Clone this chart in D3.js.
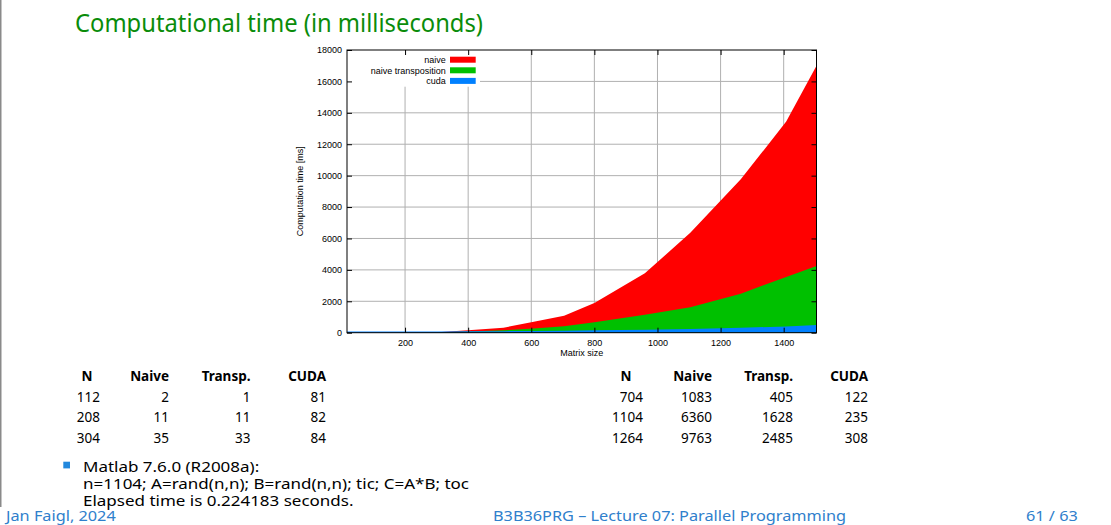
<!DOCTYPE html>
<html>
<head>
<meta charset="utf-8">
<script src="https://cdn.jsdelivr.net/npm/d3@7"></script>
<style>
  html, body { margin: 0; padding: 0; background: #fff; }
  svg { display: block; }
</style>
</head>
<body>
<div id="chart"></div>
<script>
// Data
var sizes = [16, 112, 208, 304, 400, 512, 608, 704, 800, 960, 1104, 1264, 1408, 1504];
var naive = [0, 2, 11, 35, 150, 320, 700, 1083, 1890, 3780, 6360, 9763, 13440, 17000];
var transp = [0, 1, 11, 33, 70, 150, 260, 405, 660, 1150, 1628, 2485, 3550, 4250];
var cuda = [80, 81, 82, 84, 90, 100, 110, 122, 150, 190, 235, 308, 400, 490];

var seriesNames = ["naive", "naive transposition", "cuda"];
var seriesColors = ["#ff0000", "#00c000", "#0080ff"];

var xTicks = [200, 400, 600, 800, 1000, 1200, 1400];
var yTicks = [0, 2000, 4000, 6000, 8000, 10000, 12000, 14000, 16000, 18000];

var tableHead = ["N", "Naive", "Transp.", "CUDA"];
var leftRows = [[112, 2, 1, 81], [208, 11, 11, 82], [304, 35, 33, 84]];
var rightRows = [[704, 1083, 405, 122], [1104, 6360, 1628, 235], [1264, 9763, 2485, 308]];

var bulletLines = [
    "Matlab 7.6.0 (R2008a):",
    "n=1104; A=rand(n,n); B=rand(n,n); tic; C=A*B; toc",
    "Elapsed time is 0.224183 seconds."
];

var width = 1111, height = 525;
var slideFont = "'Noto Sans', 'DejaVu Sans', sans-serif";
var plotFont = "'Liberation Sans', Arial, sans-serif";

var svg = d3.select("#chart").append("svg")
    .attr("width", width)
    .attr("height", height);

// slide frame line on the left
svg.append("line")
    .attr("x1", 0.75).attr("x2", 0.75)
    .attr("y1", 0).attr("y2", 507)
    .attr("stroke", "#8a8a8a")
    .attr("stroke-width", 1.5);

// title
svg.append("text")
    .attr("x", 75).attr("y", 32)
    .attr("font-family", slideFont)
    .attr("font-size", 25.5)
    .attr("textLength", 408)
    .attr("lengthAdjust", "spacingAndGlyphs")
    .attr("fill", "#0a8c0a")
    .text("Computational time (in milliseconds)");

// plot area
var pLeft = 347, pRight = 816.5, pTop = 50, pBottom = 332.7;
var x = d3.scaleLinear().domain([16, 1504]).range([pLeft, pRight]);
var y = d3.scaleLinear().domain([0, 18000]).range([pBottom, pTop]);

var plot = svg.append("g");

// grid
plot.selectAll("line.vgrid").data(xTicks).enter().append("line")
    .attr("x1", d => x(d)).attr("x2", d => x(d))
    .attr("y1", pTop).attr("y2", pBottom)
    .attr("stroke", "#b0b0b0").attr("stroke-width", 1);
plot.selectAll("line.hgrid").data(yTicks.slice(1, -1)).enter().append("line")
    .attr("x1", pLeft).attr("x2", pRight)
    .attr("y1", d => y(d)).attr("y2", d => y(d))
    .attr("stroke", "#b0b0b0").attr("stroke-width", 1);

// legend background hides the grid behind it
plot.append("rect")
    .attr("x", pLeft).attr("y", pTop)
    .attr("width", 133).attr("height", 36.7)
    .attr("fill", "#fff");

// filled areas, drawn one over the other
var allSeries = [naive, transp, cuda];
var area = d3.area()
    .x(d => x(d[0]))
    .y0(y(0))
    .y1(d => y(d[1]));

allSeries.forEach(function(vals, i) {
    var pts = sizes.map((n, k) => [n, vals[k]]);
    plot.append("path")
        .datum(pts)
        .attr("d", area)
        .attr("fill", seriesColors[i]);
});

// border
plot.append("rect")
    .attr("x", pLeft).attr("y", pTop)
    .attr("width", pRight - pLeft).attr("height", pBottom - pTop)
    .attr("fill", "none")
    .attr("stroke", "#000").attr("stroke-width", 1);

// ticks (inward, mirrored)
var fmt = d3.format("d");
var gx = plot.append("g").attr("transform", "translate(0," + pBottom + ")")
    .call(d3.axisBottom(x).tickValues(xTicks).tickSizeInner(-5).tickSizeOuter(0).tickPadding(7).tickFormat(fmt));
var gxTop = plot.append("g").attr("transform", "translate(0," + pTop + ")")
    .call(d3.axisTop(x).tickValues(xTicks).tickSizeInner(-5).tickSizeOuter(0).tickFormat(""));
var gy = plot.append("g").attr("transform", "translate(" + pLeft + ",0)")
    .call(d3.axisLeft(y).tickValues(yTicks).tickSizeInner(-5).tickSizeOuter(0).tickPadding(5).tickFormat(fmt));
var gyRight = plot.append("g").attr("transform", "translate(" + pRight + ",0)")
    .call(d3.axisRight(y).tickValues(yTicks).tickSizeInner(-5).tickSizeOuter(0).tickFormat(""));

[gx, gxTop, gy, gyRight].forEach(function(g) {
    g.select(".domain").remove();
    g.selectAll("line").attr("stroke", "#000");
    g.selectAll("text")
        .attr("font-family", plotFont)
        .attr("font-size", 9)
        .attr("fill", "#000");
});

// axis labels
plot.append("text")
    .attr("x", (pLeft + pRight) / 2).attr("y", 356)
    .attr("text-anchor", "middle")
    .attr("font-family", plotFont).attr("font-size", 9)
    .text("Matrix size");
plot.append("text")
    .attr("transform", "translate(303," + ((pTop + pBottom) / 2) + ") rotate(-90)")
    .attr("text-anchor", "middle")
    .attr("font-family", plotFont).attr("font-size", 9)
    .text("Computation time [ms]");

// legend
var legend = plot.selectAll("g.legend").data(seriesNames).enter().append("g")
    .attr("transform", (d, i) => "translate(0," + (59.7 + i * 10.6) + ")");
legend.append("text")
    .attr("x", 445.7).attr("y", 3.2)
    .attr("text-anchor", "end")
    .attr("font-family", plotFont).attr("font-size", 9)
    .text(d => d);
legend.append("rect")
    .attr("x", 450).attr("y", -3)
    .attr("width", 25.7).attr("height", 6)
    .attr("fill", (d, i) => seriesColors[i]);

// tables
function drawTable(rows, rightEdges, nCenter) {
    var g = svg.append("g")
        .attr("font-family", slideFont)
        .attr("font-size", 13.5)
        .attr("fill", "#000");
    g.selectAll("text.head").data(tableHead).enter().append("text")
        .attr("x", (d, i) => i == 0 ? nCenter : rightEdges[i])
        .attr("y", 381)
        .attr("text-anchor", (d, i) => i == 0 ? "middle" : "end")
        .attr("font-weight", "bold")
        .text(d => d);
    rows.forEach(function(row, r) {
        g.selectAll("text.r" + r).data(row).enter().append("text")
            .attr("x", (d, i) => rightEdges[i])
            .attr("y", 401.5 + r * 20.7)
            .attr("text-anchor", "end")
            .text(d => d);
    });
}
drawTable(leftRows, [100, 169, 250.5, 326], 87);
drawTable(rightRows, [643, 712, 793, 868], 626);

// bullet (slide text is a bit squashed vertically)
svg.append("rect")
    .attr("x", 63.3).attr("y", 461.7)
    .attr("width", 6.7).attr("height", 6.7)
    .attr("fill", "#2288dd");
svg.selectAll("g.bullet").data(bulletLines).enter().append("g")
    .attr("transform", (d, i) => "translate(83," + (471.5 + i * 17) + ") scale(1,0.86)")
    .append("text")
    .attr("font-family", slideFont)
    .attr("font-size", 17)
    .attr("fill", "#000")
    .text(d => d);

// footer
var footTexts = ["Jan Faigl, 2024", "B3B36PRG – Lecture 07: Parallel Programming", "61 / 63"];
var footX = [6, 493, 1026];
svg.selectAll("g.foot").data(footTexts).enter().append("g")
    .attr("transform", (d, i) => "translate(" + footX[i] + ",521) scale(1,0.86)")
    .append("text")
    .attr("font-family", slideFont)
    .attr("font-size", 16.3)
    .attr("fill", "#2f80cc")
    .text(d => d);
</script>
</body>
</html>
